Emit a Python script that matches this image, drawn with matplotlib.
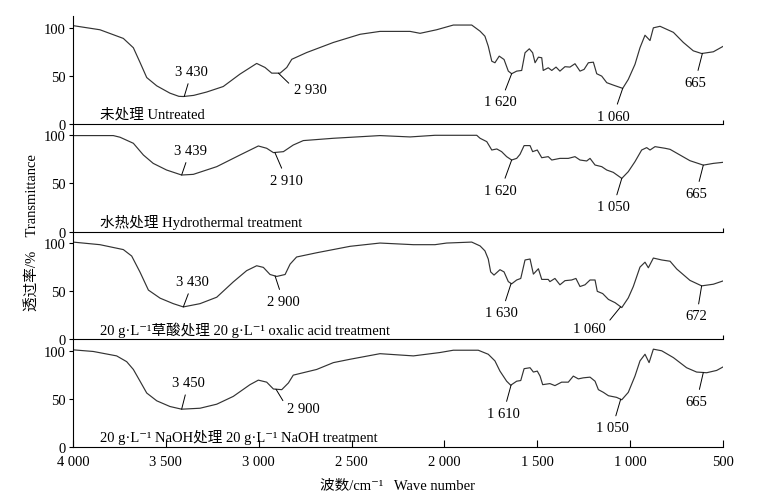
import numpy as np
import matplotlib.pyplot as plt

plt.rcParams['font.family'] = ['Liberation Serif', 'Noto Sans CJK SC', 'DejaVu Serif']
plt.rcParams['font.size'] = 10.5

# wave numbers (cm-1) and transmittance (%)
wn1 = [4000, 3855, 3729, 3675, 3639, 3603, 3549, 3478, 3430, 3406, 3350, 3280, 3191, 3101, 3011,
       2966, 2930, 2885, 2849, 2822, 2742, 2598, 2454, 2347, 2185, 2131, 2042, 1952, 1853,
       1808, 1782, 1764, 1745, 1728, 1705, 1679, 1656, 1638, 1611, 1584, 1566, 1543, 1525, 1512,
       1494, 1476, 1468, 1441, 1422, 1399, 1378, 1351, 1324, 1297, 1270, 1248, 1225, 1198, 1180,
       1153, 1126, 1091, 1040, 1010, 974, 947, 920, 893, 875, 839,
       767, 714, 660, 615, 552, 500]
t1 = [102, 97.7, 88.7, 79, 63.7, 48, 39.4, 31.8, 28.5, 28.3, 29.5, 33, 38.7, 51.6, 62.7,
      58.5, 52.6, 52.6, 58.5, 67, 74, 84.5, 93, 96, 96, 94, 97.7, 102.6, 102.6,
      96.2, 91, 80.6, 65, 63.4, 70.3, 66.8, 54.7, 52, 54.7, 55.4, 73.8, 77.9, 73.8, 63.4,
      69.2, 68.6, 55.4, 58.2, 55.4, 58.9, 54.7, 59.3, 58.9, 62.4, 54.7, 56.5, 63.4, 64, 52,
      49.5, 42.7, 40.2, 36.8, 46.1, 61.7, 79, 92, 86.5, 99.7, 101.3,
      95, 84.6, 75.8, 73, 74.8, 80.4]

wn2 = [4000, 3783, 3747, 3675, 3621, 3568, 3496, 3415, 3352, 3226, 3101, 3002, 2957, 2921, 2867,
       2814, 2760, 2598, 2347, 2185, 2051, 1826,
       1808, 1772, 1745, 1718, 1692, 1665, 1638, 1611, 1593, 1571, 1539, 1525, 1500, 1476, 1441,
       1422, 1378, 1333, 1297, 1270, 1234, 1216, 1189, 1153, 1126, 1091, 1045, 1010, 974, 938,
       911, 893, 866, 812,
       785, 678, 606, 552, 500]
t2 = [99.7, 99.7, 98, 91.7, 79.5, 70.8, 63.9, 58.7, 59.4, 67.4, 79.5, 88.9, 86.5, 82, 83,
      89.9, 94.5, 96.9, 99.7, 98.3, 100, 100,
      96.9, 93.4, 84.7, 85.8, 83, 77.8, 74.3, 76, 80.2, 89.3, 89.3, 83, 84.7, 76.7, 77.8,
      74.3, 76, 76, 77.8, 74.3, 73.3, 76, 69.1, 67.4, 63.9, 61.5, 55.2, 62.2, 72.6, 84.7,
      87.2, 84.7, 88.2, 86.5,
      85.4, 73.6, 69, 70.8, 71.9]

wn3 = [4000, 3855, 3729, 3684, 3639, 3594, 3531, 3460, 3406, 3316, 3226, 3137, 3065, 3011, 2975,
       2939, 2903, 2858, 2831, 2796, 2688, 2508, 2347, 2167, 2051, 1988, 1853,
       1808, 1782, 1764, 1751, 1733, 1701, 1679, 1656, 1638, 1611, 1589, 1566, 1539, 1521, 1494,
       1476, 1441, 1432, 1405, 1378, 1351, 1315, 1292, 1270, 1243, 1216, 1189, 1177, 1148, 1117,
       1081, 1045, 1010, 983, 947, 920, 902, 875, 830,
       785, 749, 678, 615, 552, 500]
t3 = [101, 98.3, 93.2, 86.5, 69.7, 51.1, 42.7, 37, 33.6, 37, 43.7, 59.6, 71.3, 76.4, 74.7,
      67.3, 65.3, 67.3, 78.1, 85.5, 89.9, 96.6, 100, 98.3, 98.3, 100, 101,
      97, 91.9, 83.4, 70, 66.7, 72.3, 70, 59.9, 57.6, 61.6, 63.2, 82.4, 83.4, 67.7, 73.3,
      62.2, 62.2, 59.9, 63.2, 56.6, 60.9, 61.6, 63.2, 54.8, 56.6, 61.6, 61.6, 49.8, 47.5, 41.4,
      38, 32.9, 43, 54.8, 75, 80.1, 74.3, 84.4, 82.4,
      81.1, 73, 61.2, 55.5, 57.2, 60.6]

wn4 = [4000, 3891, 3765, 3711, 3675, 3639, 3603, 3549, 3478, 3415, 3316, 3226, 3137, 3047, 3002,
       2957, 2921, 2876, 2840, 2814, 2688, 2598, 2508, 2347, 2167, 2024, 1952, 1818,
       1764, 1728, 1701, 1665, 1643, 1611, 1589, 1571, 1539, 1521, 1500, 1485, 1471, 1432, 1405,
       1369, 1333, 1306, 1279, 1252, 1216, 1189, 1171, 1144, 1117, 1073, 1045, 1010, 974, 947,
       920, 898, 875, 830,
       767, 696, 642, 588, 534, 500]
t4 = [101, 99.3, 94.7, 88.7, 80.6, 68.4, 56.1, 48, 42.1, 39.3, 40.3, 44.5, 52.6, 64.8, 69.5,
      67.4, 60.3, 59.6, 66.6, 74.7, 80.6, 87.7, 91.2, 97, 94.7, 98.2, 100.6, 100.6,
      96.4, 89.5, 78.9, 68.4, 64.2, 68.4, 69.1, 81.4, 82.4, 77.9, 78.9, 73.7, 64.8, 65.9, 63.8,
      67.4, 67.4, 73.7, 70.8, 71.9, 72.6, 68.4, 59.6, 56.8, 53.3, 51.6, 49.1, 56.8, 73.7, 89.5,
      96.4, 87.7, 101.7, 100,
      92.9, 82.4, 77.9, 77.2, 79.6, 83.2]

names = ['未处理 Untreated',
         '水热处理 Hydrothermal treatment',
         '20 g·L⁻¹草酸处理 20 g·L⁻¹ oxalic acid treatment',
         '20 g·L⁻¹ NaOH处理 20 g·L⁻¹ NaOH treatment']

peak_labels = [['3 430', '2 930', '1 620', '1 060', '665'],
               ['3 439', '2 910', '1 620', '1 050', '665'],
               ['3 430', '2 900', '1 630', '1 060', '672'],
               ['3 450', '2 900', '1 610', '1 050', '665']]
# where each leader line meets the curve
peak_x = [[3401, 2894, 1638, 1040, 611],
          [3415, 2913, 1638, 1045, 606],
          [3406, 2912, 1641, 1051, 615],
          [3415, 2907, 1641, 1051, 606]]

xticks = [4000, 3500, 3000, 2500, 2000, 1500, 1000, 500]
xtick_labels = ['4 000', '3 500', '3 000', '2 500', '2 000', '1 500', '1 000', '500']

# label placement (layout only)
text_pos = [[(3361, 54), (2724, 36), (1697, 22.7), (1091, 8), (651, 43)],
            [(3370, 84), (2849, 53.5), (1697, 43), (1091, 25.7), (645, 39.6)],
            [(3355, 59.6), (2867, 39.4), (1692, 27.6), (1222, 10.7), (642, 24.2)],
            [(3379, 66.6), (2759, 39.6), (1683, 35), (1096, 20), (642, 47.4)]]
rel_pos = {(0, 1): (0, 0.6), (3, 1): (0, 0.6), (2, 3): (1, 0.75)}

series = [(wn1, t1), (wn2, t2), (wn3, t3), (wn4, t4)]

fig = plt.figure(figsize=(7.6, 5.02), dpi=100)
left, width = 73 / 760, 650 / 760
top_px, h_px = 17, 107.75

for i, (wn, t) in enumerate(series):
    bottom = 1 - (top_px + (i + 1) * h_px) / 502
    ax = fig.add_axes([left, bottom, width, h_px / 502])
    ax.patch.set_visible(False)
    ax.plot(wn, t, color='#333333', lw=0.85)
    ax.set_xlim(4000, 500)
    ax.set_ylim(0, 112)
    ax.set_yticks([0, 50, 100])
    ax.tick_params(axis='y', direction='out', length=3, width=0.8, pad=2)
    for s in ['top', 'right']:
        ax.spines[s].set_visible(False)
    for s in ['left', 'bottom']:
        ax.spines[s].set_linewidth(0.8)
    if i < 3:
        ax.set_xticks([500])
        ax.set_xticklabels([''])
        ax.tick_params(axis='x', direction='in', length=3, width=0.8)
    else:
        ax.set_xticks(xticks)
        ax.set_xticklabels(xtick_labels)
        ax.tick_params(axis='x', direction='in', length=5, width=0.8, pad=6)

    ax.text(3855, 10.5, names[i], ha='left', va='center')

    xs = np.array(wn[::-1], dtype=float)
    ys = np.array(t[::-1], dtype=float)
    for j, lab in enumerate(peak_labels[i]):
        px = peak_x[i][j]
        py = np.interp(px, xs, ys)
        ax.annotate(lab, xy=(px, py), xytext=text_pos[i][j], ha='center', va='center',
                    arrowprops=dict(arrowstyle='-', lw=0.7, color='black',
                                    shrinkA=2, shrinkB=0,
                                    relpos=rel_pos.get((i, j), (0.5, 0.5))))

fig.text(32 / 760, 1 - 233 / 502, '透过率/%    Transmittance', rotation=90,
         ha='center', va='center')
fig.text(398 / 760, 1 - 487 / 502, '波数/cm⁻¹   Wave number', ha='center', va='center')

fig.savefig('out.png', dpi=100)
